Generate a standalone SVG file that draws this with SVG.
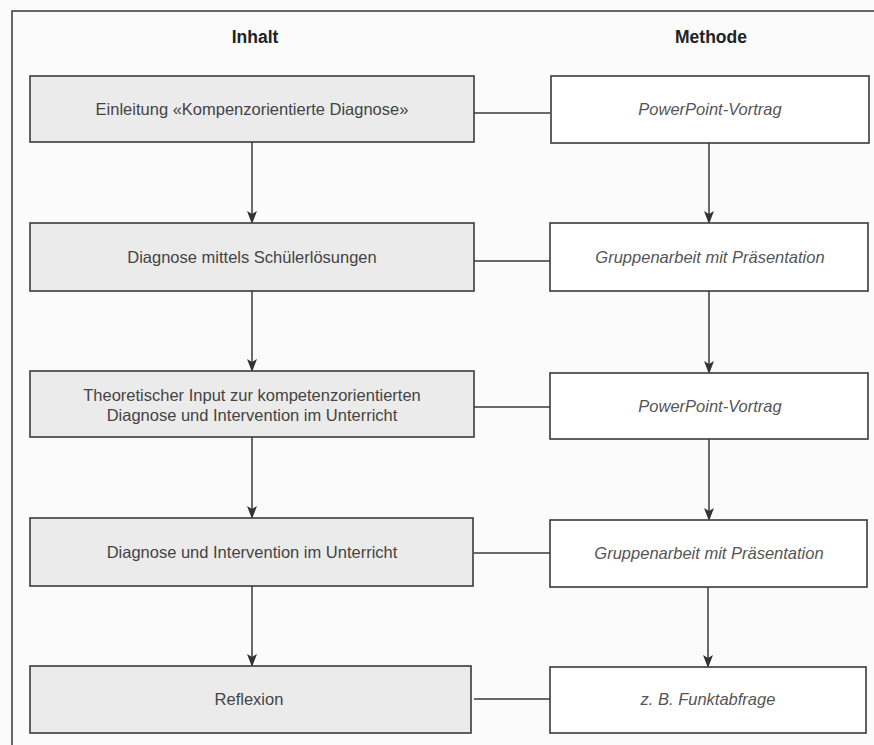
<svg xmlns="http://www.w3.org/2000/svg" width="874" height="745" viewBox="0 0 874 745">
  <style>
    .frame { fill: none; stroke: #3a3a3a; stroke-width: 1.5; }
    .lbox { fill: #ebebeb; stroke: #3a3a3a; stroke-width: 1.6; }
    .rbox { fill: #ffffff; stroke: #3a3a3a; stroke-width: 1.6; }
    .title { font-family: "Liberation Sans", Arial, sans-serif; font-size: 17.5px; font-weight: bold; fill: #222; text-anchor: middle; }
    .ltxt { font-family: "Liberation Sans", Arial, sans-serif; font-size: 16.5px; fill: #444; text-anchor: middle; }
    .rtxt { font-family: "Liberation Sans", Arial, sans-serif; font-size: 16.5px; font-style: italic; fill: #555; text-anchor: middle; }
    .conn { fill: none; stroke: #3a3a3a; stroke-width: 1.5; }
  </style>
  <defs>
    <marker id="arrow" markerWidth="13" markerHeight="10" refX="11" refY="5" orient="auto" markerUnits="userSpaceOnUse" viewBox="0 0 13 10">
      <path d="M0,0 L13,5 L0,10 L3,5 Z" fill="#333"/>
    </marker>
  </defs>
  <rect x="0" y="0" width="874" height="745" fill="#fbfbfb"/>
  <path class="frame" d="M12,745 L12,11 L874,11"/>

  <text class="title" x="255" y="43">Inhalt</text>
  <text class="title" x="711" y="43">Methode</text>

  <g id="connectors">
    <line class="conn" x1="474" y1="113" x2="550" y2="113"/>
    <line class="conn" x1="474" y1="261" x2="550" y2="261"/>
    <line class="conn" x1="474" y1="407" x2="550" y2="407"/>
    <line class="conn" x1="474" y1="553" x2="550" y2="553"/>
    <line class="conn" x1="474" y1="699" x2="550" y2="699"/>
    <line class="conn" x1="252" y1="142" x2="252" y2="222" marker-end="url(#arrow)"/>
    <line class="conn" x1="252" y1="291" x2="252" y2="370" marker-end="url(#arrow)"/>
    <line class="conn" x1="252" y1="437" x2="252" y2="517" marker-end="url(#arrow)"/>
    <line class="conn" x1="252" y1="586" x2="252" y2="665" marker-end="url(#arrow)"/>
    <line class="conn" x1="709" y1="143" x2="709" y2="222" marker-end="url(#arrow)"/>
    <line class="conn" x1="709" y1="291" x2="709" y2="372" marker-end="url(#arrow)"/>
    <line class="conn" x1="709" y1="439" x2="709" y2="519" marker-end="url(#arrow)"/>
    <line class="conn" x1="708" y1="587" x2="708" y2="666" marker-end="url(#arrow)"/>
  </g>

  <g id="inhalt1">
    <rect class="lbox" x="30" y="76" width="444" height="66"/>
    <text class="ltxt" x="252" y="115">Einleitung «Kompenzorientierte Diagnose»</text>
  </g>
  <g id="methode1">
    <rect class="rbox" x="551" y="76" width="318" height="67"/>
    <text class="rtxt" x="710" y="115">PowerPoint-Vortrag</text>
  </g>

  <g id="inhalt2">
    <rect class="lbox" x="30" y="223" width="444" height="68"/>
    <text class="ltxt" x="252" y="263">Diagnose mittels Schülerlösungen</text>
  </g>
  <g id="methode2">
    <rect class="rbox" x="550" y="223" width="318" height="68"/>
    <text class="rtxt" x="710" y="263">Gruppenarbeit mit Präsentation</text>
  </g>

  <g id="inhalt3">
    <rect class="lbox" x="30" y="371" width="444" height="66"/>
    <text class="ltxt" x="252" y="401">Theoretischer Input zur kompetenzorientierten</text>
    <text class="ltxt" x="252" y="421">Diagnose und Intervention im Unterricht</text>
  </g>
  <g id="methode3">
    <rect class="rbox" x="550" y="373" width="318" height="66"/>
    <text class="rtxt" x="710" y="412">PowerPoint-Vortrag</text>
  </g>

  <g id="inhalt4">
    <rect class="lbox" x="30" y="518" width="443" height="68"/>
    <text class="ltxt" x="252" y="558">Diagnose und Intervention im Unterricht</text>
  </g>
  <g id="methode4">
    <rect class="rbox" x="550" y="520" width="317" height="67"/>
    <text class="rtxt" x="709" y="559">Gruppenarbeit mit Präsentation</text>
  </g>

  <g id="inhalt5">
    <rect class="lbox" x="30" y="666" width="441" height="67"/>
    <text class="ltxt" x="249" y="705">Reflexion</text>
  </g>
  <g id="methode5">
    <rect class="rbox" x="550" y="667" width="316" height="66"/>
    <text class="rtxt" x="708" y="705">z. B. Funktabfrage</text>
  </g>
</svg>
